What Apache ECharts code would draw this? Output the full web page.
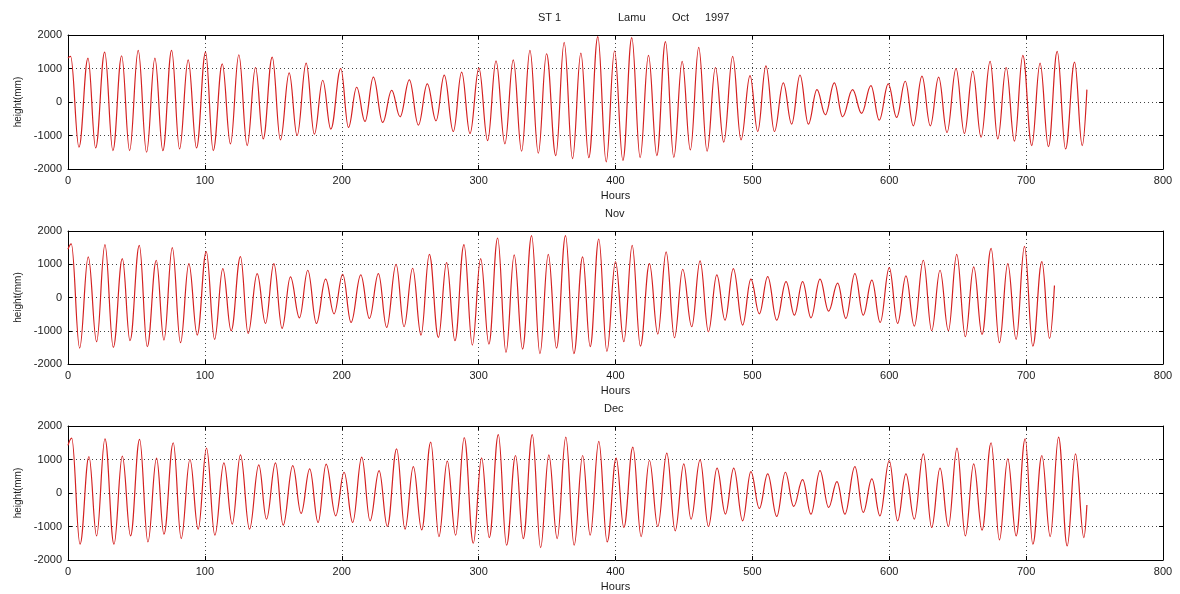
<!DOCTYPE html>
<html>
<head>
<meta charset="utf-8">
<script src="https://cdn.jsdelivr.net/npm/echarts@6/dist/echarts.min.js"></script>
<style>html,body{margin:0;padding:0;background:#fff}#c{width:1180px;height:594px}</style>
</head>
<body>
<div id="c"></div>
<script>
// ---- tick labels ----
const xTicks = [0, 100, 200, 300, 400, 500, 600, 700, 800];
const yTicks = [-2000, -1000, 0, 1000, 2000];
const panelTitles = ['Nov', 'Dec'];
const mainTitleParts = ['ST 1', 'Lamu', 'Oct', '1997'];

// ---- October: high/low water times (hours) and heights (mm) ----
const octTimes = [0,1.9,8.0,14.6,20.2,26.8,32.8,39.2,45.0,51.3,57.4,63.5,69.3,75.7,81.5,87.8,93.9,100.5,106.1,112.7,118.7,124.8,130.9,137.0,142.6,149.2,155.2,161.6,167.4,174.0,180.0,186.1,192.0,199.3,204.9,210.9,217.0,223.1,229.9,236.5,242.6,249.4,256.0,262.5,268.9,274.9,281.5,287.6,293.7,300.2,306.6,312.7,319.2,325.3,331.4,337.5,343.6,349.6,356.4,362.5,368.6,374.7,380.5,387.1,393.2,399.3,405.4,411.9,418.0,424.1,430.2,436.5,442.6,448.7,454.7,460.8,466.9,473.0,479.1,485.6,491.7,498.3,503.9,509.9,516.1,522.6,528.7,534.8,540.9,547.2,553.3,559.9,565.9,573.2,579.8,586.6,592.7,599.3,605.4,611.7,617.6,623.9,630.0,636.1,642.2,648.8,654.9,661.0,667.1,673.7,679.3,685.4,691.5,697.6,704.1,710.2,716.3,722.7,728.8,735.4,741.0,744.4];
const octHeights = [1310,1360,-1350,1310,-1370,1490,-1450,1380,-1450,1540,-1500,1310,-1450,1540,-1400,1260,-1370,1490,-1450,1140,-1250,1410,-1300,1030,-1100,1340,-1130,870,-1000,1160,-960,650,-810,1000,-760,440,-580,740,-610,350,-440,660,-690,540,-560,800,-880,890,-940,1010,-1150,1230,-1250,1260,-1470,1540,-1530,1440,-1600,1780,-1690,1460,-1660,1950,-1790,1530,-1740,1920,-1660,1390,-1600,1800,-1650,1210,-1430,1630,-1470,1030,-1200,1360,-1130,790,-880,1080,-880,570,-660,800,-660,370,-380,570,-440,370,-340,490,-540,540,-460,620,-710,770,-710,740,-910,1000,-940,920,-1050,1210,-1100,1030,-1170,1390,-1300,1160,-1330,1510,-1400,1190,-1300,370];

// ---- November ----
const novTimes = [0,2.4,8.5,14.8,20.9,27.0,33.1,39.7,45.3,52.1,57.9,64.5,70.1,76.2,82.2,88.3,94.4,101.0,107.1,113.1,119.2,126.0,131.6,138.2,144.3,150.4,156.4,162.5,169.1,175.2,181.5,188.2,194.4,200.7,206.8,213.9,220.2,226.8,232.8,239.7,245.5,251.8,257.9,264.0,270.6,276.6,282.7,289.3,295.4,301.5,307.5,313.9,320.0,326.0,332.1,338.7,344.8,350.9,356.9,363.5,369.6,376.0,381.5,387.8,393.7,400.0,406.1,412.2,418.2,424.8,430.9,437.0,443.1,449.1,455.7,461.8,467.9,474.0,480.0,486.1,492.9,498.9,505.1,511.2,517.8,524.6,530.7,536.7,542.8,549.4,555.7,562.3,568.3,574.9,581.0,587.3,593.4,600.0,606.1,612.2,618.3,624.9,631.0,637.1,643.2,649.3,655.6,661.7,667.8,674.4,680.5,686.6,692.7,698.8,704.9,711.5,717.1,720.7];
const novHeights = [1450,1610,-1520,1220,-1330,1590,-1500,1170,-1300,1570,-1480,1120,-1280,1500,-1360,1020,-1130,1380,-1260,870,-1000,1230,-1080,720,-780,1020,-930,620,-610,820,-780,550,-490,700,-750,680,-630,720,-900,1000,-880,880,-1130,1300,-1200,1050,-1300,1590,-1430,1170,-1400,1790,-1650,1280,-1550,1860,-1690,1300,-1520,1860,-1690,1220,-1480,1760,-1620,1080,-1330,1570,-1460,1020,-1100,1370,-1210,850,-880,1100,-1030,680,-680,870,-830,550,-490,630,-680,480,-530,480,-610,550,-410,430,-630,720,-530,520,-750,900,-780,650,-860,1120,-1000,820,-1000,1300,-1180,920,-1110,1480,-1360,1020,-1260,1540,-1460,1080,-1230,360];

// ---- December ----
const decTimes = [0,2.7,8.8,15.3,20.9,27.0,33.6,39.7,45.7,52.3,58.4,64.7,70.1,76.9,82.7,89.1,95.1,101.2,107.3,113.9,120.0,126.0,132.6,139.4,145.0,151.6,157.2,164.2,170.3,176.6,182.7,188.6,195.6,201.7,208.0,214.6,220.7,227.3,233.3,240.1,246.2,252.3,258.4,265.0,271.0,277.1,283.2,289.5,296.1,302.2,307.8,314.4,320.4,327.0,332.6,339.2,345.3,351.3,357.4,363.7,369.8,376.0,381.5,387.8,393.9,400.5,406.1,412.7,418.7,424.8,430.9,437.5,443.6,449.9,455.2,461.8,467.9,474.2,480.3,486.4,492.9,498.9,505.1,511.2,517.8,524.1,530.2,536.7,542.8,549.4,555.7,561.8,567.6,574.9,581.0,587.3,593.2,600.0,606.1,612.2,618.3,624.9,631.0,637.1,643.2,649.5,655.6,661.7,667.8,674.4,680.5,686.6,692.7,699.3,704.9,711.5,717.6,723.7,730.0,736.1,742.2,744.4];
const decHeights = [1420,1640,-1530,1090,-1280,1620,-1530,1100,-1280,1600,-1460,1040,-1230,1500,-1360,1000,-1080,1340,-1260,900,-930,1140,-1080,840,-780,900,-960,820,-610,720,-880,860,-680,620,-880,1070,-830,670,-1000,1320,-1080,790,-1100,1520,-1300,950,-1260,1650,-1500,1050,-1330,1740,-1560,1120,-1360,1740,-1630,1140,-1360,1670,-1560,1120,-1260,1540,-1460,1040,-1030,1370,-1300,970,-1000,1190,-1130,870,-780,990,-1000,740,-630,740,-830,640,-460,570,-700,620,-400,400,-630,670,-430,340,-630,790,-580,420,-680,970,-830,570,-780,1170,-1030,740,-1000,1340,-1280,870,-1110,1500,-1400,1020,-1280,1620,-1530,1120,-1300,1670,-1580,1170,-1330,-360];

// ---- build options ----
const FONT = '"Liberation Sans", Arial, sans-serif';
const TXT = '#1a1a1a';
const grids = [
  { left: 68, right: 17, top: 35, height: 134 },
  { left: 68, right: 17, top: 231, height: 133 },
  { left: 68, right: 17, top: 426, height: 134 }
];
const panels = [
  [octTimes, octHeights],
  [novTimes, novHeights],
  [decTimes, decHeights]
];

const xAxes = [], yAxes = [], series = [];
const tickStyle = { show: true, inside: true, length: 4, lineStyle: { color: '#000', width: 1 } };
const gridLine = { show: true, lineStyle: { color: '#444', width: 1, type: [1, 3] } };
const plainNum = v => String(v);

grids.forEach((g, i) => {
  xAxes.push({
    type: 'value', gridIndex: i, position: 'bottom',
    min: xTicks[0], max: xTicks[xTicks.length - 1], interval: xTicks[1] - xTicks[0],
    name: 'Hours', nameLocation: 'middle', nameGap: 21,
    nameTextStyle: { fontFamily: FONT, fontSize: 11, color: TXT },
    axisLine: { show: true, onZero: false, lineStyle: { color: '#000' } },
    axisTick: tickStyle,
    axisLabel: { fontFamily: FONT, fontSize: 11, color: TXT, margin: 6, formatter: plainNum },
    splitLine: gridLine
  });
  yAxes.push({
    type: 'value', gridIndex: i, position: 'left',
    min: yTicks[0], max: yTicks[yTicks.length - 1], interval: yTicks[1] - yTicks[0],
    name: 'height(mm)', nameLocation: 'middle', nameGap: 44,
    nameTextStyle: { fontFamily: FONT, fontSize: 10, color: TXT },
    axisLine: { show: true, onZero: false, lineStyle: { color: '#000' } },
    axisTick: tickStyle,
    axisLabel: { fontFamily: FONT, fontSize: 11, color: TXT, margin: 6, formatter: plainNum },
    splitLine: gridLine
  });
  const [ts, hs] = panels[i];
  series.push({
    type: 'line', xAxisIndex: i, yAxisIndex: i,
    data: ts.map((t, k) => [t, hs[k]]),
    showSymbol: false, symbol: 'none',
    smooth: 0.4, smoothMonotone: 'x',
    lineStyle: { color: '#d42020', width: 1.2 },
    animation: false
  });
});
// box axes (top / right) with inward ticks
grids.forEach((g, i) => {
  xAxes.push({
    type: 'value', gridIndex: i, position: 'top',
    min: xTicks[0], max: xTicks[xTicks.length - 1], interval: xTicks[1] - xTicks[0],
    axisLine: { show: true, onZero: false, lineStyle: { color: '#000' } },
    axisTick: tickStyle, axisLabel: { show: false }, splitLine: { show: false }
  });
  yAxes.push({
    type: 'value', gridIndex: i, position: 'right',
    min: yTicks[0], max: yTicks[yTicks.length - 1], interval: yTicks[1] - yTicks[0],
    axisLine: { show: true, onZero: false, lineStyle: { color: '#000' } },
    axisTick: tickStyle, axisLabel: { show: false }, splitLine: { show: false }
  });
});

const titleStyle = { fontFamily: FONT, fontSize: 11, fontWeight: 'normal', color: TXT };
const mainLefts = [538, 618, 672, 705];
const titles = mainTitleParts.map((t, k) => ({ text: t, left: mainLefts[k], top: 12, padding: 0, textStyle: titleStyle }));
titles.push({ text: panelTitles[0], left: 605, top: 208, padding: 0, textStyle: titleStyle });
titles.push({ text: panelTitles[1], left: 604, top: 403, padding: 0, textStyle: titleStyle });

const chart = echarts.init(document.getElementById('c'), null, { renderer: 'canvas' });
chart.setOption({
  backgroundColor: '#fff',
  animation: false,
  title: titles,
  grid: grids,
  xAxis: xAxes,
  yAxis: yAxes,
  series: series
});
</script>
</body>
</html>
